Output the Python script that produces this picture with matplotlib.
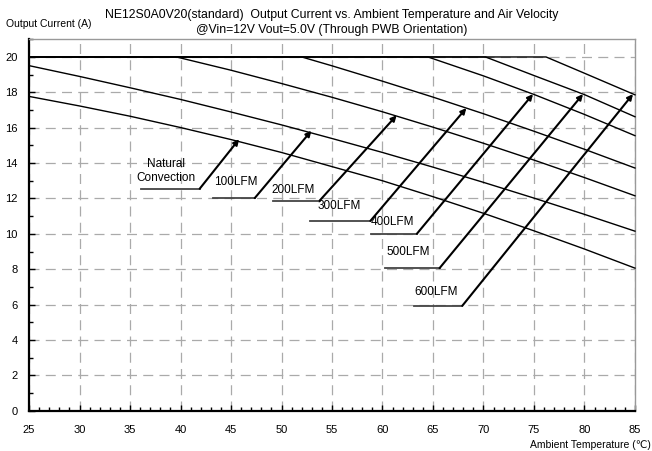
import matplotlib
matplotlib.use('Agg')
import matplotlib.pyplot as plt
from matplotlib.ticker import MultipleLocator

plt.rcParams['font.family'] = ['Liberation Sans', 'DejaVu Sans']

# derating curves: ambient temp (C) -> output current (A)
nc_t = [25, 30, 35, 40, 45, 50, 55, 60, 65, 70, 75, 80, 85]
nc_i = [17.77, 17.23, 16.65, 16.01, 15.33, 14.6, 13.8, 13.0, 12.1, 11.16, 10.17, 9.14, 8.06]
lfm100_t = [25, 30, 35, 40, 45, 50, 55, 60, 65, 70, 75, 80, 85]
lfm100_i = [19.51, 18.9, 18.26, 17.6, 16.89, 16.16, 15.39, 14.6, 13.77, 12.91, 12.02, 11.1, 10.15]
lfm200_t = [25, 39.6, 45, 50, 55, 60, 65, 70, 75, 80, 85]
lfm200_i = [20, 20, 19.25, 18.5, 17.72, 16.9, 16.03, 15.12, 14.17, 13.18, 12.15]
lfm300_t = [25, 52, 55, 60, 65, 70, 75, 80, 85]
lfm300_i = [20, 20, 19.5, 18.63, 17.73, 16.79, 15.8, 14.78, 13.72]
lfm400_t = [25, 64.5, 70, 75, 80, 85]
lfm400_i = [20, 20, 18.93, 17.88, 16.75, 15.55]
lfm500_t = [25, 70.2, 75, 80, 85]
lfm500_i = [20, 20, 18.95, 17.87, 16.62]
lfm600_t = [25, 76.2, 80, 85]
lfm600_i = [20, 20, 19.08, 17.86]

curves = [(nc_t, nc_i), (lfm100_t, lfm100_i), (lfm200_t, lfm200_i), (lfm300_t, lfm300_i),
          (lfm400_t, lfm400_i), (lfm500_t, lfm500_i), (lfm600_t, lfm600_i)]

labels = ['Natural\nConvection', '100LFM', '200LFM', '300LFM', '400LFM', '500LFM', '600LFM']

# annotation layout: text anchor, underline (x0, x1, y), arrow tip
text_pos = [(38.6, 13.55), (43.3, 12.93), (49.0, 12.45), (53.6, 11.6),
            (58.8, 10.66), (60.4, 9.0), (63.2, 6.7)]
underline = [(36.06, 41.9, 12.55), (43.2, 47.35, 12.02), (49.16, 53.78, 11.88),
             (52.8, 58.8, 10.73), (58.9, 63.4, 10.0), (60.2, 65.65, 8.06),
             (63.1, 67.9, 5.93)]
tips = [(45.8, 15.35), (52.96, 15.83), (61.4, 16.7), (68.3, 17.11),
        (74.9, 17.9), (79.85, 17.9), (84.8, 17.9)]

fig = plt.figure(figsize=(6.52, 4.51), dpi=100)
ax = fig.add_axes([0.0445, 0.0894, 0.9294, 0.8235])

ax.set_xlim(25, 85)
ax.set_ylim(0, 21)
ax.xaxis.set_major_locator(MultipleLocator(5))
ax.xaxis.set_minor_locator(MultipleLocator(1))
ax.yaxis.set_major_locator(MultipleLocator(2))
ax.yaxis.set_minor_locator(MultipleLocator(1))
ax.grid(True, which='major', color='#aaaaaa', linestyle=(0, (8, 5)), linewidth=0.9)
ax.set_axisbelow(True)

ax.tick_params(which='major', direction='in', length=4, width=1, labelsize=8, color='black')
ax.tick_params(which='minor', direction='in', length=3, width=1, color='black')
ax.tick_params(axis='x', pad=10)
ax.tick_params(axis='y', pad=8)

for s in ['left', 'bottom']:
    ax.spines[s].set_linewidth(1.6)
    ax.spines[s].set_color('black')
for s in ['top', 'right']:
    ax.spines[s].set_linewidth(1.0)
    ax.spines[s].set_color('#999999')

for t, i in curves:
    ax.plot(t, i, color='black', linewidth=1.0, clip_on=False, zorder=3)

for k, lab in enumerate(labels):
    x0, x1, y = underline[k]
    ax.plot([x0, x1], [y, y], color='#444444', linewidth=1.3, zorder=3)
    ax.annotate('', xy=tips[k], xytext=(x1, y),
                arrowprops=dict(arrowstyle='-|>', color='black', lw=1.5,
                                mutation_scale=8, shrinkA=0, shrinkB=0), zorder=4)
    if k == 0:
        ax.text(text_pos[k][0], text_pos[k][1], lab, ha='center', va='center',
                fontsize=8.5, linespacing=1.15)
    else:
        ax.text(text_pos[k][0], text_pos[k][1], lab, ha='left', va='center', fontsize=8.5)

fig.text(0.508, 0.966, 'NE12S0A0V20(standard)  Output Current vs. Ambient Temperature and Air Velocity',
         ha='center', va='center', fontsize=8.8)
fig.text(0.508, 0.934, '@Vin=12V Vout=5.0V (Through PWB Orientation)',
         ha='center', va='center', fontsize=8.8)
fig.text(0.009, 0.947, 'Output Current (A)', ha='left', va='center', fontsize=7.5)
fig.text(0.998, 0.013, 'Ambient Temperature (℃)', ha='right', va='center', fontsize=7.5)

fig.savefig('out.png', dpi=100)
